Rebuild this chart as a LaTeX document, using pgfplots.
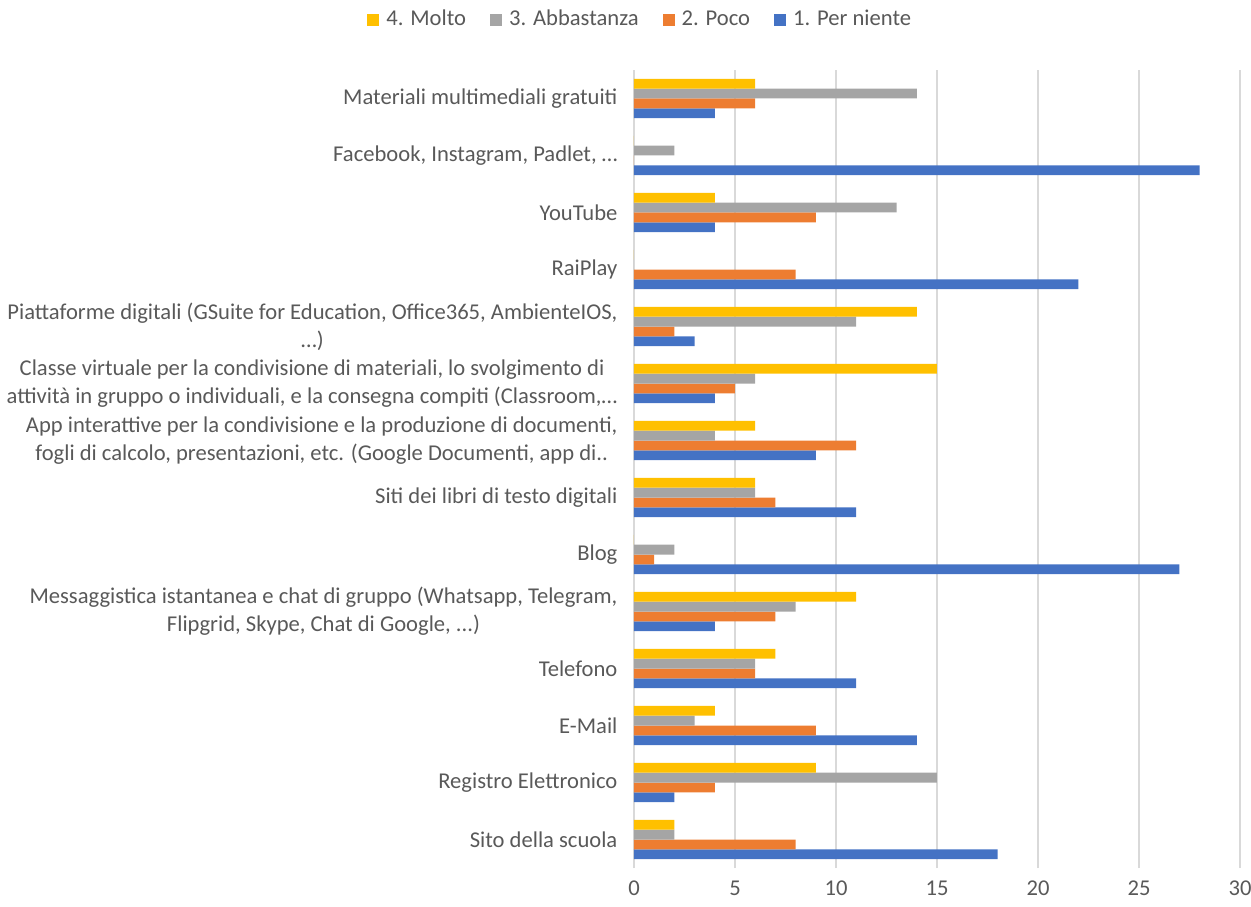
\documentclass[border=0pt]{standalone}
\usepackage{pgfplots}
\pgfplotsset{compat=1.18}
\usepackage{fontspec}
\setmainfont{Carlito}

\definecolor{cblue}{HTML}{4472C4}
\definecolor{corange}{HTML}{ED7D31}
\definecolor{cgray}{HTML}{A5A5A5}
\definecolor{cyellow}{HTML}{FFC000}
\definecolor{ctext}{HTML}{595959}
\definecolor{cgrid}{HTML}{D9D9D9}

\begin{document}
\begin{tikzpicture}
  % frame of the whole chart, axis area starts at (0,0)
  \useasboundingbox (-317pt,-19pt) rectangle (308.5pt,434pt);
  \begin{axis}[
      at={(0,0)}, anchor=south west,
      scale only axis,
      width=303pt, height=399pt,
      xbar=0pt, bar width=4.9pt,
      xmin=0, xmax=30,
      ymin=-0.5, ymax=13.5,
      xtick={0,5,...,30},
      ytick={0,...,13},
      yticklabels={
        Sito della scuola,
        Registro Elettronico,
        E-Mail,
        Telefono,
        {Messaggistica istantanea e chat di gruppo (Whatsapp, Telegram,\\ Flipgrid, Skype, Chat di Google, {.}{.}{.})},
        Blog,
        Siti dei libri di testo digitali,
        {App interattive per la condivisione e la produzione di documenti,\\ fogli di calcolo, presentazioni, etc. (Google Documenti, app di{.}{.}},
        {Classe virtuale per la condivisione di materiali, lo svolgimento di\\ attività in gruppo o individuali, e la consegna compiti (Classroom,…},
        {Piattaforme digitali (GSuite for Education, Office365, AmbienteIOS,\\ …)},
        RaiPlay,
        YouTube,
        {Facebook, Instagram, Padlet, …},
        Materiali multimediali gratuiti
      },
      yticklabel style={align=center, font=\fontsize{11.3}{13.9}\selectfont, text=ctext, xshift=-0.5pt},
      xticklabel style={font=\fontsize{11.3}{13}\selectfont, text=ctext, yshift=-3pt},
      /pgf/number format/assume math mode=true,
      xmajorgrids, major grid style={cgrid, line width=0.75pt},
      axis line style={draw=none},
      tick style={draw=none},
      reverse legend,
      legend columns=4,
      legend style={at={(axis description cs:0.012,1.063)}, anchor=center,
        draw=none, font=\fontsize{11.3}{13}\selectfont, text=ctext,
        nodes={text height=1.6ex, text depth=0.3ex},
        /tikz/every even column/.append style={column sep=10pt}},
      legend image code/.code={\fill[#1] (0pt,-3pt) rectangle (6pt,3pt); \path (7.5pt,0pt);},
    ]
    \addplot[fill=cblue, draw=none] coordinates {
      (18,0) (2,1) (14,2) (11,3) (4,4) (27,5) (11,6)
      (9,7) (4,8) (3,9) (22,10) (4,11) (28,12) (4,13)
    };
    \addplot[fill=corange, draw=none] coordinates {
      (8,0) (4,1) (9,2) (6,3) (7,4) (1,5) (7,6)
      (11,7) (5,8) (2,9) (8,10) (9,11) (0,12) (6,13)
    };
    \addplot[fill=cgray, draw=none] coordinates {
      (2,0) (15,1) (3,2) (6,3) (8,4) (2,5) (6,6)
      (4,7) (6,8) (11,9) (0,10) (13,11) (2,12) (14,13)
    };
    \addplot[fill=cyellow, draw=none] coordinates {
      (2,0) (9,1) (4,2) (7,3) (11,4) (0,5) (6,6)
      (6,7) (15,8) (14,9) (0,10) (4,11) (0,12) (6,13)
    };
    \legend{1. Per niente, 2. Poco, 3. Abbastanza, 4. Molto}
  \end{axis}
\end{tikzpicture}
\end{document}
